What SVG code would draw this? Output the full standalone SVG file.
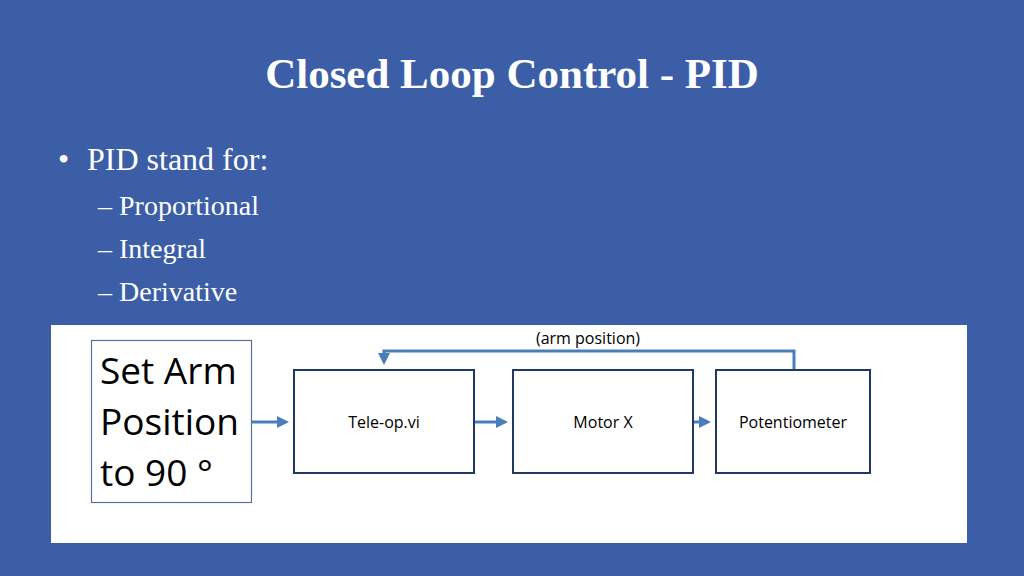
<svg xmlns="http://www.w3.org/2000/svg" width="1024" height="576" viewBox="0 0 1024 576">
<style>
.t{font-family:"Liberation Serif",serif;fill:#fff}
.b{fill:#fff;stroke:#1f3864;stroke-width:2}
.l{font-family:"Open Sans","Noto Sans",sans-serif;font-size:16px;fill:#000;text-anchor:middle}
.c{stroke:#4a7ebb;stroke-width:3;fill:none}
</style>
<defs><marker id="a" markerWidth="4" markerHeight="4" refX="3" refY="2" orient="auto" markerUnits="strokeWidth"><path d="M0,0L4,2L0,4Z" fill="#4a7ebb"/></marker></defs>
<rect width="1024" height="576" fill="#3c5ea6"/>
<text class="t" x="512" y="88" font-size="43" font-weight="bold" text-anchor="middle">Closed Loop Control - PID</text>
<text class="t" x="58" y="170" font-size="32">•</text>
<text class="t" x="87" y="170" font-size="32">PID stand for:</text>
<text class="t" x="98" y="215" font-size="28">– Proportional</text>
<text class="t" x="98" y="258" font-size="28">– Integral</text>
<text class="t" x="98" y="301" font-size="28">– Derivative</text>
<rect x="51" y="325" width="916" height="218" fill="#fff"/>
<g id="set"><rect x="91.5" y="340.5" width="160" height="162" fill="#fff" stroke="#5b6f9e" stroke-width="1.2"/>
<text font-family="'Open Sans','Noto Sans',sans-serif" font-size="37" x="100" y="384">Set Arm</text>
<text font-family="'Open Sans','Noto Sans',sans-serif" font-size="37" x="100" y="435">Position</text>
<text font-family="'Open Sans','Noto Sans',sans-serif" font-size="37" x="100" y="486">to 90 °</text></g>
<g id="tele"><rect class="b" x="294" y="370" width="180" height="103"/><text class="l" x="384" y="428">Tele-op.vi</text></g>
<g id="motor"><rect class="b" x="513" y="370" width="180" height="103"/><text class="l" x="603" y="428">Motor X</text></g>
<g id="pot"><rect class="b" x="716" y="370" width="154" height="103"/><text class="l" x="793" y="428">Potentiometer</text></g>
<text class="l" x="588" y="344">(arm position)</text>
<g id="connectors">
<path class="c" d="M252,422H286" marker-end="url(#a)"/>
<path class="c" d="M475,422H505" marker-end="url(#a)"/>
<path class="c" d="M694,422H708" marker-end="url(#a)"/>
<path class="c" d="M794,369V351H384V362" marker-end="url(#a)"/>
</g>
</svg>
